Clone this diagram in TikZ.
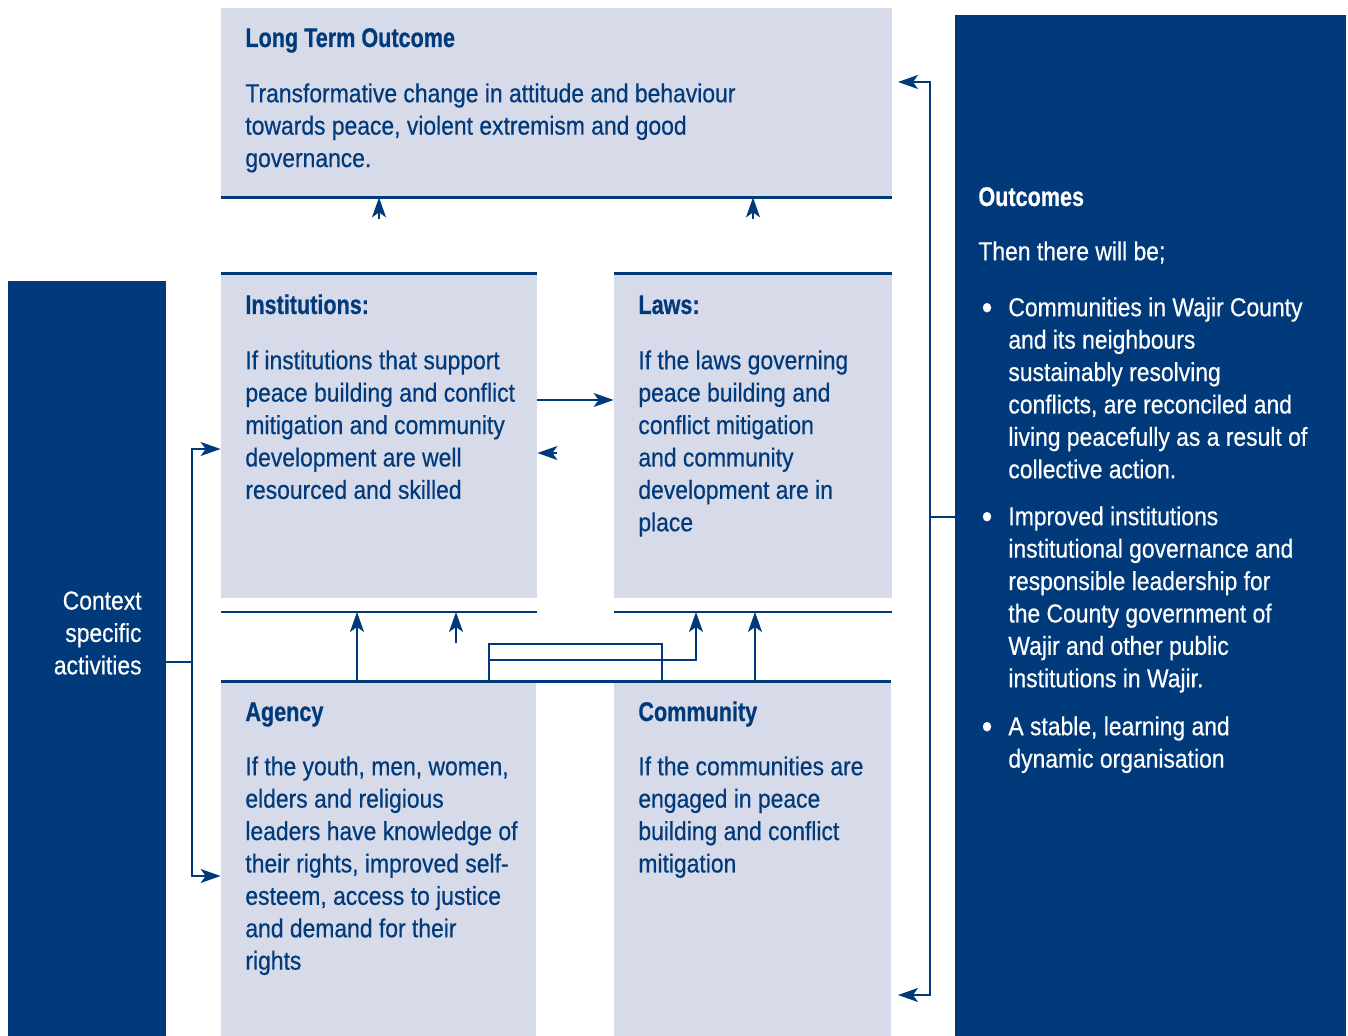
\documentclass[tikz,border=0pt]{standalone}
\usepackage{fontspec}
\setmainfont[FakeStretch=0.88,FakeBold=0.5]{Liberation Sans}
\newfontfamily\headfont[FakeStretch=0.80,FakeBold=0.6]{Liberation Sans}
\usetikzlibrary{arrows.meta,positioning,fit}
\definecolor{navy}{RGB}{0,58,122}
\definecolor{lav}{RGB}{215,219,233}

\begin{document}
\begin{tikzpicture}[x=0.5pt,y=-0.5pt,
    box/.style={fill=lav,draw=none,inner sep=0pt},
    panel/.style={fill=navy,draw=none,inner sep=0pt},
    bar/.style={draw=navy,line width=1.4pt},
    link/.style={draw=navy,line width=0.9pt},
    thin/.style={draw=navy,line width=0.6pt},
    arr/.style={link,-{Stealth[length=10pt,width=7pt,inset=2.5pt]}},
    head/.style={font=\headfont\bfseries\fontsize{13.5}{16}\selectfont,text=navy,anchor=base west,inner sep=0pt},
    body/.style={font=\fontsize{13}{16.2}\selectfont,text=navy,align=left,anchor=north west,inner sep=0pt},
    wbody/.style={body,text=white}]
    \useasboundingbox (0,0) rectangle (1348,1036);

    % panels and boxes
    \node[panel,fit={(8,281) (166,1036)}] (ctx) {};
    \node[panel,fit={(955,15) (1346,1036)}] (outc) {};
    \node[box,fit={(221,8) (892,197)}] (top) {};
    \node[box,fit={(221,274) (537,598)}] (inst) {};
    \node[box,fit={(614,274) (892,598)}] (laws) {};
    \node[box,fit={(221,682) (536,1036)}] (agency) {};
    \node[box,fit={(614,682) (891,1036)}] (comm) {};

    % box rules
    \draw[bar] (top.south west) -- (top.south east);
    \draw[bar] (inst.north west) -- (inst.north east);
    \draw[bar] (laws.north west) -- (laws.north east);
    \foreach \b in {inst,laws} {
        \draw[bar] (\b.south west |- 0,612) -- (\b.south east |- 0,612);
    }
    \draw[bar] (agency.north west) -- (comm.north east);

    % texts
    \node[head] (toph) at (245,47) {Long Term Outcome};
    \node[body] (topt) at (245,83) {Transformative change in attitude and behaviour\\towards peace, violent extremism and good\\governance.};
    \node[head] (insth) at (245,314) {Institutions:};
    \node[body] (instt) at (245,350) {If institutions that support\\peace building and conflict\\mitigation and community\\development are well\\resourced and skilled};
    \node[head] (lawsh) at (638,314) {Laws:};
    \node[body] (lawst) at (638,350) {If the laws governing\\peace building and\\conflict mitigation\\and community\\development are in\\place};
    \node[head] (agencyh) at (245,721) {Agency};
    \node[body] (agencyt) at (245,756) {If the youth, men, women,\\elders and religious\\leaders have knowledge of\\their rights, improved self-\\esteem, access to justice\\and demand for their\\rights};
    \node[head] (commh) at (638,721) {Community};
    \node[body] (commt) at (638,756) {If the communities are\\engaged in peace\\building and conflict\\mitigation};
    \node[wbody,align=right,anchor=north east] (ctxt) at (142,591) {Context\\specific\\activities};
    \node[head,text=white] (outch) at (978,206) {Outcomes};
    \node[wbody] (outct) at (978,241) {Then there will be;};
    \foreach \y/\t [count=\i] in {297/{Communities in Wajir County\\and its neighbours\\sustainably resolving\\conflicts, are reconciled and\\living peacefully as a result of\\collective action.},
        506/{Improved institutions\\institutional governance and\\responsible leadership for\\the County government of\\Wajir and other public\\institutions in Wajir.},
        716/{A stable, learning and\\dynamic organisation}} {
        \node[wbody,anchor=center,font=\fontsize{17}{17}\selectfont] (dot\i) at (987,\y+14) {•};
        \node[wbody] (item\i) at (1008,\y) {\t};
    }

    % arrows into long term outcome
    \draw[arr] (inst.north |- 0,219) -- (inst.north |- top.south);
    \draw[arr] (laws.north |- 0,219) -- (laws.north |- top.south);

    % arrows between institutions and laws
    \draw[arr] (inst.east |- 0,400) -- (laws.west |- 0,400);
    \draw[arr] (inst.east |- 0,453) ++(20,0) -- (inst.east |- 0,453);

    % arrows from agency and community
    \coordinate (a1) at (357,682);
    \coordinate (a2) at (456,643);
    \coordinate (a4) at (755,682);
    \draw[arr] (a1) -- (a1 |- 0,612);
    \draw[arr] (a2) -- (a2 |- 0,612);
    \draw[arr] (a4) -- (a4 |- 0,612);
    \draw[thin] (489,682) rectangle (662,644);
    \draw[arr,line width=0.6pt] (489,660) -- (696,660) -- (696,612);

    % context connector
    \coordinate (cl) at (192,662);
    \draw[thin] (ctx.east |- cl) -- (cl);
    \draw[arr,line width=0.7pt] (cl) |- (inst.west |- 0,449);
    \draw[arr,line width=0.7pt] (cl) |- (agency.west |- 0,876);

    % outcomes connector
    \coordinate (cr) at (930,517);
    \draw[thin] (outc.west |- cr) -- (cr);
    \draw[arr,line width=0.7pt] (cr) |- (898,82);
    \draw[arr,line width=0.7pt] (cr) |- (898,995);
\end{tikzpicture}
\end{document}
